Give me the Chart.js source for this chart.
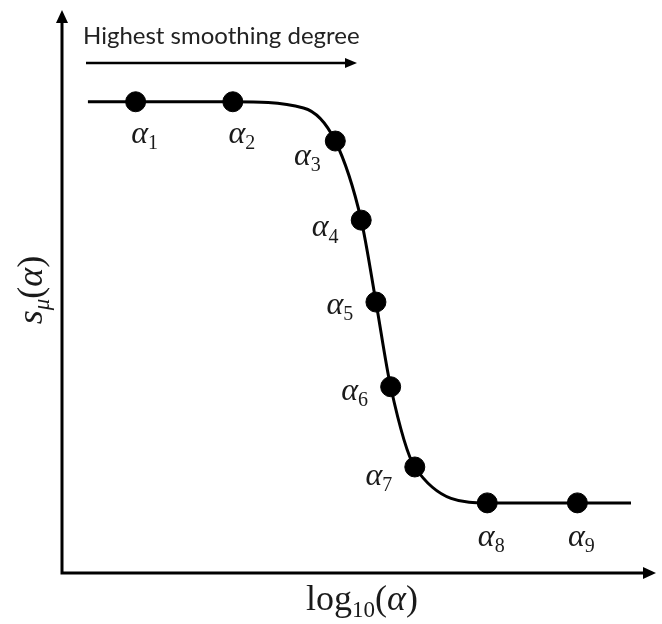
<!DOCTYPE html>
<html>
<head>
<meta charset="utf-8">
<script src="https://cdn.jsdelivr.net/npm/chart.js@4"></script>
<style>
  html, body { margin: 0; padding: 0; background: #fff; }
  #wrap { width: 662px; height: 624px; position: relative; }
</style>
</head>
<body>
<div id="wrap"><canvas id="sigmoidChart"></canvas></div>
<script>
// marked alpha values along log10(alpha) and their s_mu(alpha)
const alphaNames = ["1", "2", "3", "4", "5", "6", "7", "8", "9"];
const alphaLog = [1.25, 2.9, 4.64, 5.08, 5.33, 5.58, 5.99, 7.22, 8.75];
const alphaS = [0.84, 0.84, 0.77, 0.629, 0.483, 0.332, 0.189, 0.125, 0.125];

// the traced curve itself (ends and top bend included)
const curveLog = [0.44, 1.25, 2.9, 4.1, 4.64, 5.08, 5.33, 5.58, 5.99, 7.22, 8.75, 9.66];
const curveS = [0.84, 0.84, 0.84, 0.829, 0.77, 0.629, 0.483, 0.332, 0.189, 0.125, 0.125, 0.125];

// where each alpha label sits relative to its dot (px)
const labelOffsets = [
  [9, 33], [9, 33], [-28, 16], [-36, 8], [-36, 4], [-36, 5], [-36, 10], [4, 35], [4, 35]
];

const mathFont = '"Liberation Serif", "DejaVu Serif", serif';

// draws a run of [text, italic, subscript] pieces, centred on x
function drawMath(ctx, parts, x, y, size) {
  const fontFor = (p) => (p[1] ? "italic " : "") + Math.round(p[2] ? size * 0.64 : size) + "px " + mathFont;
  let total = 0;
  parts.forEach((p) => { ctx.font = fontFor(p); total += ctx.measureText(p[0]).width; });
  let cx = x - total / 2;
  ctx.textBaseline = "alphabetic";
  ctx.textAlign = "left";
  parts.forEach((p) => {
    ctx.font = fontFor(p);
    ctx.fillText(p[0], cx, p[2] ? y + size * 0.2 : y);
    cx += ctx.measureText(p[0]).width;
  });
}

function arrowHead(ctx, x, y, dir, len, half) {
  ctx.beginPath();
  if (dir === "right") {
    ctx.moveTo(x, y); ctx.lineTo(x - len, y - half); ctx.lineTo(x - len, y + half);
  } else {
    ctx.moveTo(x, y); ctx.lineTo(x - half, y + len); ctx.lineTo(x + half, y + len);
  }
  ctx.closePath();
  ctx.fill();
}

const decorations = {
  id: "decorations",
  beforeDatasetsDraw(chart) {
    const { ctx, chartArea: a } = chart;
    ctx.save();
    ctx.strokeStyle = "#000";
    ctx.fillStyle = "#000";
    ctx.lineWidth = 3;
    ctx.beginPath();
    ctx.moveTo(a.left, a.top + 8);
    ctx.lineTo(a.left, a.bottom);
    ctx.lineTo(a.right - 8, a.bottom);
    ctx.stroke();
    arrowHead(ctx, a.left, a.top - 2, "up", 13, 6);
    arrowHead(ctx, a.right + 5, a.bottom, "right", 13, 6);

    // smoothing direction arrow
    ctx.lineWidth = 2.5;
    ctx.beginPath();
    ctx.moveTo(86, 63);
    ctx.lineTo(346, 63);
    ctx.stroke();
    arrowHead(ctx, 357, 63, "right", 12, 5);

    ctx.font = '24px Lato, "Open Sans", sans-serif';
    ctx.textAlign = "left";
    ctx.textBaseline = "alphabetic";
    ctx.fillStyle = "#222";
    ctx.fillText("Highest smoothing degree", 83, 44);
    ctx.restore();
  },
  afterDatasetsDraw(chart) {
    const { ctx } = chart;
    const xs = chart.scales.x, ys = chart.scales.y;
    ctx.save();
    ctx.fillStyle = "#1a1a1a";
    alphaLog.forEach((v, i) => {
      const px = xs.getPixelForValue(v) + labelOffsets[i][0];
      const py = ys.getPixelForValue(alphaS[i]) + labelOffsets[i][1];
      drawMath(ctx, [["α", true, false], [alphaNames[i], false, true]], px, py + 8, 32);
    });

    // axis titles
    drawMath(ctx, [["log", false, false], ["10", false, true], ["(", false, false], ["α", true, false], [")", false, false]], 362, 610, 36);
    ctx.translate(42, 290);
    ctx.rotate(-Math.PI / 2);
    drawMath(ctx, [["s", true, false], ["μ", true, true], ["(", false, false], ["α", true, false], [")", false, false]], 0, 0, 36);
    ctx.restore();
  }
};

new Chart(document.getElementById("sigmoidChart"), {
  type: "scatter",
  data: {
    datasets: [
      {
        label: "curve",
        data: curveLog.map((x, i) => ({ x, y: curveS[i] })),
        showLine: true,
        borderColor: "#000",
        borderWidth: 3,
        pointRadius: 0,
        cubicInterpolationMode: "monotone",
        order: 2
      },
      {
        label: "alpha",
        data: alphaLog.map((x, i) => ({ x, y: alphaS[i] })),
        backgroundColor: "#000",
        borderColor: "#000",
        pointRadius: 10,
        pointHoverRadius: 10,
        order: 1
      }
    ]
  },
  options: {
    responsive: true,
    maintainAspectRatio: false,
    animation: false,
    layout: { padding: { left: 62, right: 7, top: 12, bottom: 51 } },
    scales: {
      x: { type: "linear", min: 0, max: 10, display: false },
      y: { type: "linear", min: 0, max: 1, display: false }
    },
    plugins: {
      legend: { display: false },
      tooltip: { enabled: false }
    }
  },
  plugins: [decorations]
});
</script>
</body>
</html>
